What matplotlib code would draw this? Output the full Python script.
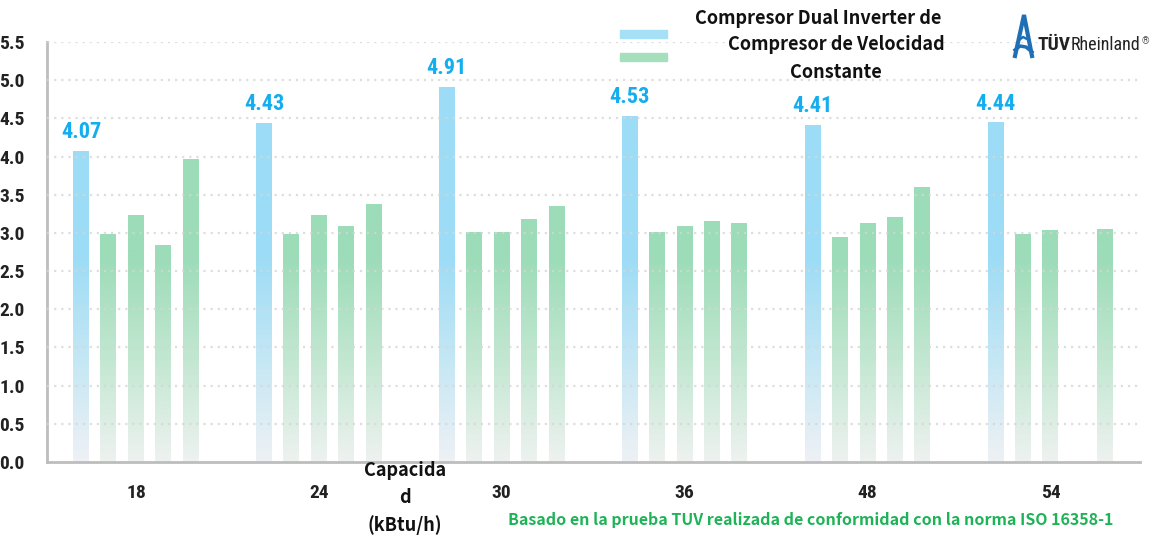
import matplotlib
matplotlib.use("Agg")
import matplotlib.pyplot as plt
import numpy as np
from matplotlib import font_manager
from matplotlib.colors import LinearSegmentedColormap, Normalize
from matplotlib.lines import Line2D

# data
capacities = ["18", "24", "30", "36", "48", "54"]
dual_inverter = [4.07, 4.43, 4.91, 4.53, 4.41, 4.44]
constant_speed = [
    [2.98, 3.23, 2.84, 3.96],
    [2.98, 3.23, 3.09, 3.37],
    [3.01, 3.00, 3.18, 3.35],
    [3.00, 3.09, 3.15, 3.12],
    [2.94, 3.12, 3.20, 3.60],
    [2.98, 3.03, None, 3.05],
]
legend_labels = ["Compresor Dual Inverter de", "Compresor de Velocidad", "Constante"]
footnote = "Basado en la prueba TUV realizada de conformidad con la norma ISO 16358-1"

names = {f.name for f in font_manager.fontManager.ttflist}
narrow = "Liberation Sans"
for cand in ["Liberation Sans Narrow", "Roboto Condensed", "DejaVu Sans Condensed", "Open Sans Condensed"]:
    if cand in names:
        narrow = cand
        break
kr = "Noto Sans CJK KR"

W, H = 1153, 537
fig = plt.figure(figsize=(W / 100, H / 100), dpi=100)
ax = fig.add_axes([47 / W, 1 - 462 / H, (1140 - 47) / W, (462 - 42) / H])

blue_cmap = LinearSegmentedColormap.from_list("b", ["#eef1f4", "#c4e7f5", "#9ddcf6"])
green_cmap = LinearSegmentedColormap.from_list("g", ["#eef2f0", "#c2e7d1", "#9cdcb8"])
grad_norm = Normalize(0, 2.7, clip=True)

bw = 0.087
step = 0.15


def grad_bar(x, h, cmap):
    ys = np.linspace(0, h, 200).reshape(-1, 1)
    ax.imshow(ys, cmap=cmap, norm=grad_norm, origin="lower", aspect="auto",
              extent=(x - bw / 2, x + bw / 2, 0, h), zorder=2, interpolation="bilinear")


for i, (b, greens) in enumerate(zip(dual_inverter, constant_speed)):
    xb = i - 2 * step
    grad_bar(xb, b, blue_cmap)
    ax.text(xb, b + 0.11, f"{b:.2f}", ha="center", va="bottom", color="#14aef0",
            fontsize=16, fontweight="bold", family=narrow)
    for j, g in enumerate(greens):
        if g is None:
            continue
        grad_bar(i + (j - 1) * step, g, green_cmap)

ax.set_xlim(-0.486, 5.49)
ax.set_ylim(0, 5.5)
ax.set_yticks(np.arange(0, 5.51, 0.5))
ax.set_yticklabels([f"{v:.1f}" for v in np.arange(0, 5.51, 0.5)])
ax.set_xticks(range(len(capacities)))
ax.set_xticklabels(capacities)
for lab in ax.get_yticklabels() + ax.get_xticklabels():
    lab.set_fontfamily(narrow)
    lab.set_fontweight("bold")
    lab.set_fontsize(14)
    lab.set_color("#222222")
ax.tick_params(axis="y", length=0, pad=16)
ax.tick_params(axis="x", length=0, pad=16)

for y in np.arange(0.5, 5.51, 0.5):
    ax.axhline(y, color="#d6d6d6", lw=1.6, ls=(0, (1, 2.2)), zorder=3, alpha=0.8)

for s in ["top", "right"]:
    ax.spines[s].set_visible(False)
ax.spines["left"].set_color("#bdbdbd")
ax.spines["left"].set_linewidth(2)
ax.spines["bottom"].set_color("#bdbdbd")
ax.spines["bottom"].set_linewidth(2)

# x label placed in the middle of the axis area like the reference
fig.text(405 / W, 1 - 498 / H, "Capacida\nd\n(kBtu/h)", ha="center", va="center",
         fontsize=13, fontweight="bold", family=[kr, "DejaVu Sans"], linespacing=1.5,
         color="#111111")

fig.text(1113 / W, 1 - 520 / H, footnote, ha="right", va="center", fontsize=11.5,
         fontweight="bold", family=[kr, "DejaVu Sans"], color="#1db356")

# legend swatches and texts
fig.patches.append(plt.Rectangle((620 / W, 1 - 38 / H), 47 / W, 8 / H,
                                 transform=fig.transFigure, color="#a6e0f6", figure=fig))
fig.patches.append(plt.Rectangle((620 / W, 1 - 61 / H), 47 / W, 8 / H,
                                 transform=fig.transFigure, color="#a6dfbd", figure=fig))
fig.text(818 / W, 1 - 19 / H, legend_labels[0], ha="center", va="center", fontsize=13,
         fontweight="bold", family=[kr, "DejaVu Sans"], color="#111111")
fig.text(836 / W, 1 - 45 / H, legend_labels[1], ha="center", va="center", fontsize=13,
         fontweight="bold", family=[kr, "DejaVu Sans"], color="#111111")
fig.text(836 / W, 1 - 72 / H, legend_labels[2], ha="center", va="center", fontsize=13,
         fontweight="bold", family=[kr, "DejaVu Sans"], color="#111111")


# TUV Rheinland logo
def px(x, y):
    return x / W, 1 - y / H


logo_color = "#1f6fb6"
xs, ys = zip(*[px(1015, 56), px(1024, 15), px(1032, 56)])
fig.add_artist(Line2D(xs, ys, color=logo_color, lw=3, transform=fig.transFigure,
                      solid_joinstyle="miter"))
xs, ys = zip(*[px(1015, 50), px(1020, 46), px(1026, 47), px(1032, 52)])
fig.add_artist(Line2D(xs, ys, color=logo_color, lw=2.5, transform=fig.transFigure))
xs, ys = zip(*[px(1019, 40), px(1023, 37), px(1029, 40)])
fig.add_artist(Line2D(xs, ys, color=logo_color, lw=1.8, transform=fig.transFigure))
tuv = fig.text(1038 / W, 1 - 50 / H, "TÜV", ha="left", va="baseline", fontsize=14,
               fontweight="bold", family=narrow, color="#222222")
rh = ax.annotate("Rheinland", xy=(1, 0), xycoords=tuv, ha="left", va="bottom",
                 fontsize=13, family=narrow, color="#222222", annotation_clip=False)
ax.annotate("®", xy=(1, 1), xycoords=rh, ha="left", va="top", xytext=(0.5, 0),
            textcoords="offset points", fontsize=7, family=narrow, color="#555555",
            annotation_clip=False)

fig.savefig("out.png", dpi=100, facecolor="white")
